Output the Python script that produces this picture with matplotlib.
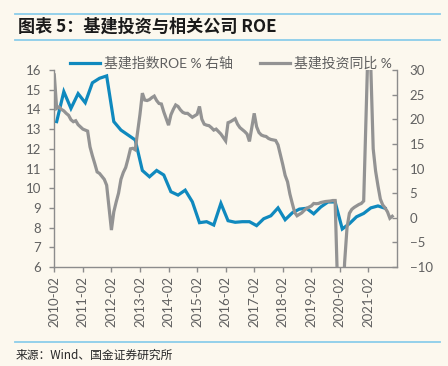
import matplotlib
matplotlib.use("Agg")
import matplotlib.pyplot as plt
from matplotlib.lines import Line2D

plt.rcParams['font.family'] = ['Lato', 'Noto Sans CJK SC', 'DejaVu Sans']

# ---------------- data ----------------
years = list(range(2010, 2022))
# monthly (Feb..Dec each year) infrastructure investment YoY, %
g2010 = [29.0, 22.2, 22.5, 22.0, 21.7, 21.2, 20.8, 19.9, 19.5, 19.7, 18.9]
g2011 = [18.0, 17.8, 17.6, 14.4, 12.6, 11.0, 9.3, 9.0, 8.4, 7.8, 6.6]
g2012 = [-2.5, 1.2, 3.2, 5.0, 7.8, 9.2, 10.2, 12.0, 14.0, 14.1, 13.8]
g2013 = [21.0, 25.3, 23.9, 23.8, 24.0, 24.4, 24.7, 23.8, 23.2, 23.1, 21.5]
g2014 = [18.8, 20.9, 22.0, 22.9, 22.6, 21.9, 21.4, 21.2, 21.2, 20.8, 20.4]
g2015 = [21.0, 22.6, 20.0, 19.0, 18.8, 18.7, 18.3, 17.8, 18.0, 17.5, 17.0]
g2016 = [15.6, 19.3, 19.5, 19.8, 20.1, 19.0, 18.3, 17.9, 17.5, 17.0, 15.5]
g2017 = [21.2, 18.5, 17.3, 16.8, 16.6, 16.5, 16.1, 15.9, 15.8, 15.7, 14.8]
g2018 = [10.8, 8.6, 7.3, 4.8, 2.9, 1.1, 0.4, 0.7, 1.0, 1.5, 1.9]
g2019 = [2.4, 2.9, 2.85, 2.9, 3.1, 3.2, 3.3, 3.35, 3.4, 3.5, 3.5]
g2020 = [-30.3, -19.7, -9.0, -2.0, 0.9, 1.7, 2.1, 2.4, 2.7, 2.9, 3.4]
g2021 = [38.0, 30.5, 14.0, 9.5, 6.5, 3.8, 2.6, 2.0, 1.2, -0.1, 0.3]
gray_by_year = [g2010, g2011, g2012, g2013, g2014, g2015,
                g2016, g2017, g2018, g2019, g2020, g2021]
gray_months = [f"{y}-{m:02d}" for y in years for m in range(2, 13)]
gray_vals = [v for yr in gray_by_year for v in yr]

# quarterly ROE of infrastructure index, % (2010-03 .. 2021-09)
roe_vals = [13.38, 14.9, 14.05, 14.8, 14.34, 15.35, 15.58, 15.7,
            13.38, 12.95, 12.7, 12.45, 10.9, 10.58, 10.9, 10.67,
            9.82, 9.65, 9.9, 9.31, 8.25, 8.3, 8.13, 9.23,
            8.35, 8.27, 8.3, 8.3, 8.1, 8.45, 8.6, 9.0,
            8.4, 8.75, 8.94, 8.98, 8.7, 9.05, 9.3, 9.3,
            7.93, 8.2, 8.55, 8.72, 9.0, 9.1, 8.98]
roe_months = [f"{y}-{m:02d}" for y in years for m in (3, 6, 9, 12)][:len(roe_vals)]

tick_labels = [f"{y}-02" for y in years]

labels = ["基建指数ROE % 右轴", "基建投资同比 %"]
title = "图表 5：基建投资与相关公司 ROE"
source = "来源：Wind、国金证券研究所"


def midx(s):
    y, m = s.split("-")
    return (int(y) - 2010) * 12 + (int(m) - 2)


BG = "#FCF8EE"
BLUE = "#0F89BE"
GRAY = "#939393"
AX = "#8C8C8C"
TXT = "#606060"

fig = plt.figure(figsize=(4.48, 3.66), dpi=100, facecolor=BG)
ax = fig.add_axes([54.3 / 448, 1 - 267 / 366, (397 - 54.3) / 448, (267 - 70) / 366])
ax.set_facecolor(BG)
ax2 = ax.twinx()

bx = [midx(s) for s in roe_months]
gx = [midx(s) for s in gray_months]
l1, = ax.plot(bx, roe_vals, color=BLUE, lw=2.3, solid_joinstyle='miter')
l2, = ax2.plot(gx, gray_vals, color=GRAY, lw=2.3, solid_joinstyle='miter')

ax.set_xlim(0, 144)
ax.set_ylim(6, 16)
ax2.set_ylim(-10, 30)
ax.set_yticks(range(6, 17))
ax2.set_yticks(range(-10, 31, 5))
ax.set_xticks([midx(s) for s in tick_labels])
ax.set_xticklabels(tick_labels, rotation=90)

for a in (ax, ax2):
    a.spines['top'].set_visible(False)
    for s in ('left', 'right', 'bottom'):
        a.spines[s].set_color(AX)
        a.spines[s].set_linewidth(1.0)
ax.spines['right'].set_visible(False)
ax2.spines['left'].set_visible(False)
ax2.spines['bottom'].set_visible(False)

ax.tick_params(axis='y', direction='out', length=3.5, width=1, color=AX,
               labelsize=9.5, labelcolor=TXT, pad=6)
ax.tick_params(axis='x', direction='out', length=3.5, width=1, color=AX,
               labelsize=9.5, labelcolor=TXT, pad=3)
ax2.tick_params(axis='y', direction='in', length=3.5, width=1, color=AX,
                labelsize=9.5, labelcolor=TXT, pad=9)

leg = fig.legend([l1, l2], labels, loc='center', bbox_to_anchor=(231 / 448, 1 - 63 / 366),
                 ncol=2, frameon=False, fontsize=10, handlelength=2.15,
                 columnspacing=1.9, handletextpad=0.3, labelcolor=TXT)

# title block
fig.add_artist(Line2D([15 / 448, 440 / 448], [1 - 13.5 / 366] * 2, color="#8CCDEA", lw=1.3))
fig.add_artist(Line2D([15 / 448, 440 / 448], [1 - 39.5 / 366] * 2, color="#8CCDEA", lw=1.3))
fig.text(18 / 448, 1 - 26.5 / 366, title, fontsize=12.3, fontweight='bold',
         color="#1A1A1A", ha='left', va='center',
         family=['Noto Sans CJK SC', 'DejaVu Sans'])

fig.add_artist(Line2D([15 / 448, 440 / 448], [1 - 341.5 / 366] * 2, color="#8CCDEA", lw=1.3))
fig.text(16 / 448, 1 - 355 / 366, source, fontsize=8.5, color="#262626",
         ha='left', va='center', family=['Noto Sans CJK SC', 'DejaVu Sans'])

fig.savefig("out.png", dpi=100, facecolor=BG)
